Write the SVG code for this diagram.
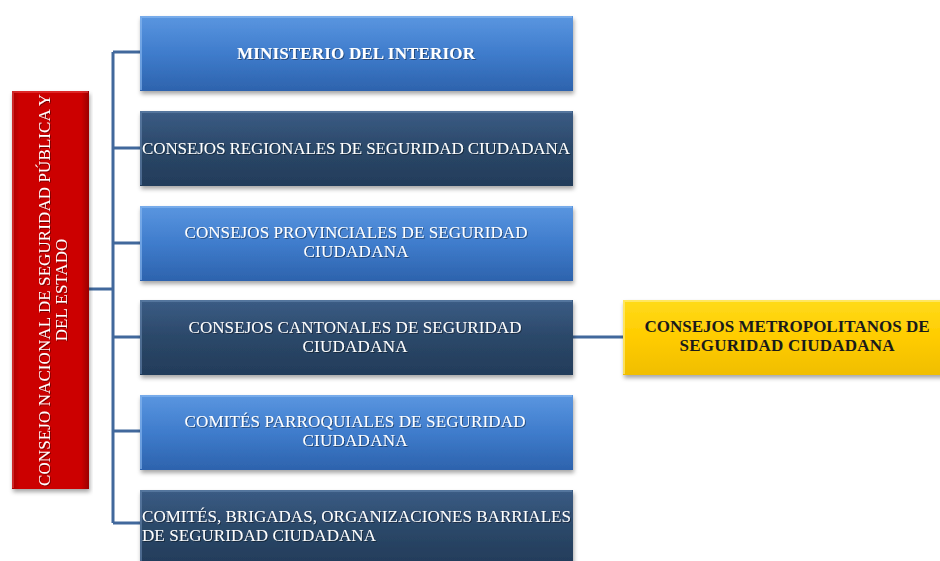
<svg xmlns="http://www.w3.org/2000/svg" width="940" height="561" viewBox="0 0 940 561">
<defs>
<style>
.t{font-family:"Liberation Serif","Times New Roman",serif;font-size:17px;fill:#ffffff;}
.b{font-weight:bold;font-size:17px;}
.c{text-anchor:middle;}
.y{fill:#1a1a1a;}
.conn{stroke:#41689c;stroke-width:3;fill:none;}
.hl{fill:none;stroke-width:2;}
</style>
<linearGradient id="gl" x1="0" y1="0" x2="0" y2="1">
<stop offset="0" stop-color="#5a96e0"/><stop offset="0.5" stop-color="#3f7ccc"/><stop offset="1" stop-color="#2d63ad"/>
</linearGradient>
<linearGradient id="gd" x1="0" y1="0" x2="0" y2="1">
<stop offset="0" stop-color="#3b5c85"/><stop offset="0.5" stop-color="#2b4869"/><stop offset="1" stop-color="#233c5a"/>
</linearGradient>
<linearGradient id="gr" x1="0" y1="0" x2="1" y2="0">
<stop offset="0" stop-color="#a80000"/><stop offset="0.1" stop-color="#cc0000"/><stop offset="0.9" stop-color="#cc0000"/><stop offset="1" stop-color="#9a0000"/>
</linearGradient>
<linearGradient id="gy" x1="0" y1="0" x2="0" y2="1">
<stop offset="0" stop-color="#ffdb1a"/><stop offset="0.5" stop-color="#ffcc00"/><stop offset="1" stop-color="#f0be00"/>
</linearGradient>
<filter id="sh" x="-5%" y="-10%" width="110%" height="130%">
<feDropShadow dx="1" dy="3" stdDeviation="2" flood-color="#000" flood-opacity="0.35"/>
</filter>
<filter id="ts" x="-5%" y="-20%" width="110%" height="150%">
<feDropShadow dx="1" dy="1" stdDeviation="0.6" flood-color="#000" flood-opacity="0.4"/>
</filter>
</defs>
<rect width="940" height="561" fill="#ffffff"/>

<g id="connectors">
<path class="conn" d="M89,289 H113 M113,52 V523 M113,52 H140 M113,148 H140 M113,243 H140 M113,337 H140 M113,431 H140 M113,523 H140 M573,337 H623"/>
</g>

<g id="node-consejo-nacional">
<rect x="12" y="91" width="77" height="398" fill="url(#gr)" filter="url(#sh)"/>
<path class="hl" d="M13,488 V92 H88" stroke="#ee5050" stroke-opacity="0.5"/>
<g filter="url(#ts)">
<text class="t c" transform="translate(50,290) rotate(-90)" textLength="392">CONSEJO NACIONAL DE SEGURIDAD PÚBLICA Y</text>
<text class="t c" transform="translate(67,290) rotate(-90)">DEL ESTADO</text>
</g>
</g>

<g id="node-ministerio">
<rect x="140" y="16" width="433" height="75" fill="url(#gl)" filter="url(#sh)"/>
<path class="hl" d="M141,90 V17 H572" stroke="#8cbaf2" stroke-opacity="0.6"/>
<text class="t b c" x="356" y="59" textLength="238" filter="url(#ts)">MINISTERIO DEL INTERIOR</text>
</g>

<g id="node-regionales">
<rect x="140" y="111" width="433" height="75" fill="url(#gd)" filter="url(#sh)"/>
<path class="hl" d="M141,185 V112 H572" stroke="#6585ad" stroke-opacity="0.6"/>
<text class="t c" x="356" y="154" textLength="428" filter="url(#ts)">CONSEJOS REGIONALES DE SEGURIDAD CIUDADANA</text>
</g>

<g id="node-provinciales">
<rect x="140" y="206" width="433" height="75" fill="url(#gl)" filter="url(#sh)"/>
<path class="hl" d="M141,280 V207 H572" stroke="#8cbaf2" stroke-opacity="0.6"/>
<g filter="url(#ts)">
<text class="t c" x="356" y="238" textLength="343">CONSEJOS PROVINCIALES DE SEGURIDAD</text>
<text class="t c" x="356" y="257" textLength="105">CIUDADANA</text>
</g>
</g>

<g id="node-cantonales">
<rect x="140" y="300" width="433" height="75" fill="url(#gd)" filter="url(#sh)"/>
<path class="hl" d="M141,374 V301 H572" stroke="#6585ad" stroke-opacity="0.6"/>
<g filter="url(#ts)">
<text class="t c" x="355" y="333" textLength="333">CONSEJOS CANTONALES DE SEGURIDAD</text>
<text class="t c" x="355" y="352" textLength="105">CIUDADANA</text>
</g>
</g>

<g id="node-parroquiales">
<rect x="140" y="395" width="433" height="75" fill="url(#gl)" filter="url(#sh)"/>
<path class="hl" d="M141,469 V396 H572" stroke="#8cbaf2" stroke-opacity="0.6"/>
<g filter="url(#ts)">
<text class="t c" x="355" y="427" textLength="341">COMITÉS PARROQUIALES DE SEGURIDAD</text>
<text class="t c" x="355" y="446" textLength="105">CIUDADANA</text>
</g>
</g>

<g id="node-barriales">
<rect x="140" y="490" width="433" height="75" fill="url(#gd)" filter="url(#sh)"/>
<path class="hl" d="M141,564 V491 H572" stroke="#6585ad" stroke-opacity="0.6"/>
<g filter="url(#ts)">
<text class="t" x="142" y="522" textLength="429">COMITÉS, BRIGADAS, ORGANIZACIONES BARRIALES</text>
<text class="t" x="142" y="541" textLength="234">DE SEGURIDAD CIUDADANA</text>
</g>
</g>

<g id="node-metropolitanos">
<rect x="623" y="300" width="330" height="75" fill="url(#gy)" filter="url(#sh)"/>
<path class="hl" d="M624,374 V301 H952" stroke="#ffec80" stroke-opacity="0.7"/>
<text class="t b c y" x="787" y="332" textLength="285">CONSEJOS METROPOLITANOS DE</text>
<text class="t b c y" x="787" y="351" textLength="215">SEGURIDAD CIUDADANA</text>
</g>
</svg>
